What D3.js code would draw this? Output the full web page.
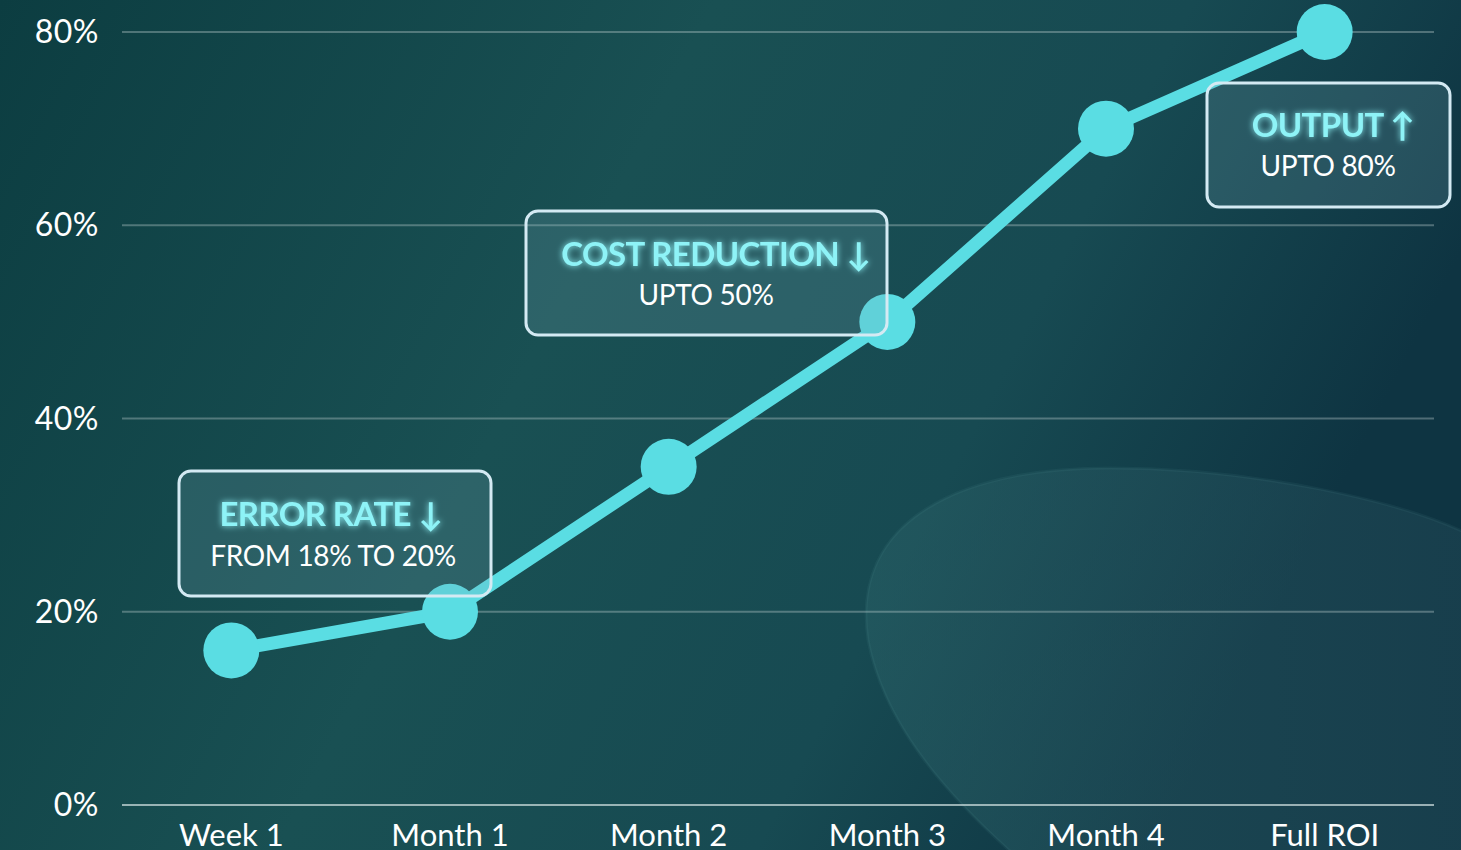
<!DOCTYPE html>
<html>
<head>
<meta charset="utf-8">
<script src="https://cdn.jsdelivr.net/npm/d3@7"></script>
<style>
  html, body { margin: 0; padding: 0; background: #0f3f44; }
  svg { display: block; }
  text { font-family: "Lato", "Noto Sans", sans-serif; }
</style>
</head>
<body>
<svg id="chart" width="1461" height="850"></svg>
<script>
// ---- data ----
const categories = ["Week 1", "Month 1", "Month 2", "Month 3", "Month 4", "Full ROI"];
const values = [16, 20, 35, 50, 70, 80];
const yTicks = [0, 20, 40, 60, 80];
const annotationTitles = ["ERROR RATE \u2193", "COST REDUCTION \u2193", "OUTPUT \u2191"];
const annotationTexts = ["FROM 18% TO 20%", "UPTO 50%", "UPTO 80%"];

const W = 1461, H = 850;
const svg = d3.select("#chart");
const defs = svg.append("defs");

// background gradient
const bg = defs.append("linearGradient").attr("id", "bg")
  .attr("x1", "0%").attr("y1", "0%").attr("x2", "100%").attr("y2", "30%");
bg.append("stop").attr("offset", "0%").attr("stop-color", "#0c3d41");
bg.append("stop").attr("offset", "45%").attr("stop-color", "#195053");
bg.append("stop").attr("offset", "75%").attr("stop-color", "#174a52");
bg.append("stop").attr("offset", "100%").attr("stop-color", "#0e3442");
svg.append("rect").attr("width", W).attr("height", H).attr("fill", "url(#bg)");

// blob
const blobG = defs.append("linearGradient").attr("id", "blob")
  .attr("x1", "0%").attr("y1", "0%").attr("x2", "100%").attr("y2", "0%");
blobG.append("stop").attr("offset", "0%").attr("stop-color", "#2a6268").attr("stop-opacity", 0.5);
blobG.append("stop").attr("offset", "100%").attr("stop-color", "#264e5c").attr("stop-opacity", 0.4);
svg.append("path")
  .attr("d", "M 868 640 C 850 520, 960 468, 1110 468 C 1250 468, 1400 500, 1470 535 L 1470 860 L 1020 860 C 940 790, 883 720, 868 640 Z")
  .attr("fill", "url(#blob)")
  .attr("stroke", "rgba(120,180,190,0.07)").attr("stroke-width", 3);

// scales
const x = d3.scalePoint().domain(categories).range([122, 1434]).padding(0.5);
const y = d3.scaleLinear().domain([0, 80]).range([805, 32]);

// grid
svg.append("g").selectAll("line").data(yTicks).join("line")
  .attr("x1", 122).attr("x2", 1434)
  .attr("y1", d => y(d)).attr("y2", d => y(d))
  .attr("stroke", d => d === 0 ? "rgba(210,225,225,0.7)" : "rgba(200,215,215,0.35)")
  .attr("stroke-width", 2);

// y axis labels
svg.append("g").selectAll("text").data(yTicks).join("text")
  .attr("x", 99).attr("y", d => y(d) + 11)
  .attr("text-anchor", "end")
  .attr("fill", "#ffffff")
  .attr("font-size", 32)
  .attr("letter-spacing", 0.5)
  .text(d => d + "%");

// x axis labels
svg.append("g").selectAll("text").data(categories).join("text")
  .attr("x", d => x(d)).attr("y", 846)
  .attr("text-anchor", "middle")
  .attr("fill", "#ffffff")
  .attr("font-size", 31)
  .text(d => d);

// line
const line = d3.line().x((d, i) => x(categories[i])).y(d => y(d));
svg.append("path").datum(values)
  .attr("d", line)
  .attr("fill", "none")
  .attr("stroke", "#5adde3")
  .attr("stroke-width", 13)
  .attr("stroke-linejoin", "round");

svg.append("g").selectAll("circle").data(values).join("circle")
  .attr("cx", (d, i) => x(categories[i]))
  .attr("cy", d => y(d))
  .attr("r", 28)
  .attr("fill", "#5adde3");

// glow filter
const f = defs.append("filter").attr("id", "glow")
  .attr("x", "-20%").attr("y", "-50%").attr("width", "140%").attr("height", "200%");
f.append("feGaussianBlur").attr("in", "SourceGraphic").attr("stdDeviation", 3).attr("result", "b");
const m = f.append("feMerge");
m.append("feMergeNode").attr("in", "b");
m.append("feMergeNode").attr("in", "SourceGraphic");

// annotation boxes
const boxes = [
  { x0: 179, y0: 471, w: 312, h: 125, tx: 331, ty: 526, sx: 333, sy: 566 },
  { x0: 526, y0: 211, w: 361, h: 124, tx: 716, ty: 266, sx: 706, sy: 305 },
  { x0: 1207, y0: 83, w: 243, h: 124, tx: 1333, ty: 137, sx: 1328, sy: 176 }
];
const ann = svg.append("g").selectAll("g").data(annotationTitles).join("g");
ann.append("rect")
  .attr("x", (d, i) => boxes[i].x0).attr("y", (d, i) => boxes[i].y0)
  .attr("width", (d, i) => boxes[i].w).attr("height", (d, i) => boxes[i].h)
  .attr("rx", 12)
  .attr("fill", "rgba(120,170,180,0.22)")
  .attr("stroke", "#d4eaf3").attr("stroke-width", 3);
ann.append("text")
  .attr("x", (d, i) => boxes[i].tx).attr("y", (d, i) => boxes[i].ty)
  .attr("text-anchor", "middle")
  .attr("fill", "#8ef3f7")
  .attr("font-size", 33).attr("font-weight", 700)
  .attr("letter-spacing", -0.6)
  .attr("filter", "url(#glow)")
  .text(d => d);
ann.append("text")
  .attr("x", (d, i) => boxes[i].sx).attr("y", (d, i) => boxes[i].sy)
  .attr("text-anchor", "middle")
  .attr("fill", "#ffffff")
  .attr("font-size", 28)
  .attr("letter-spacing", -0.3)
  .text((d, i) => annotationTexts[i]);
</script>
</body>
</html>
